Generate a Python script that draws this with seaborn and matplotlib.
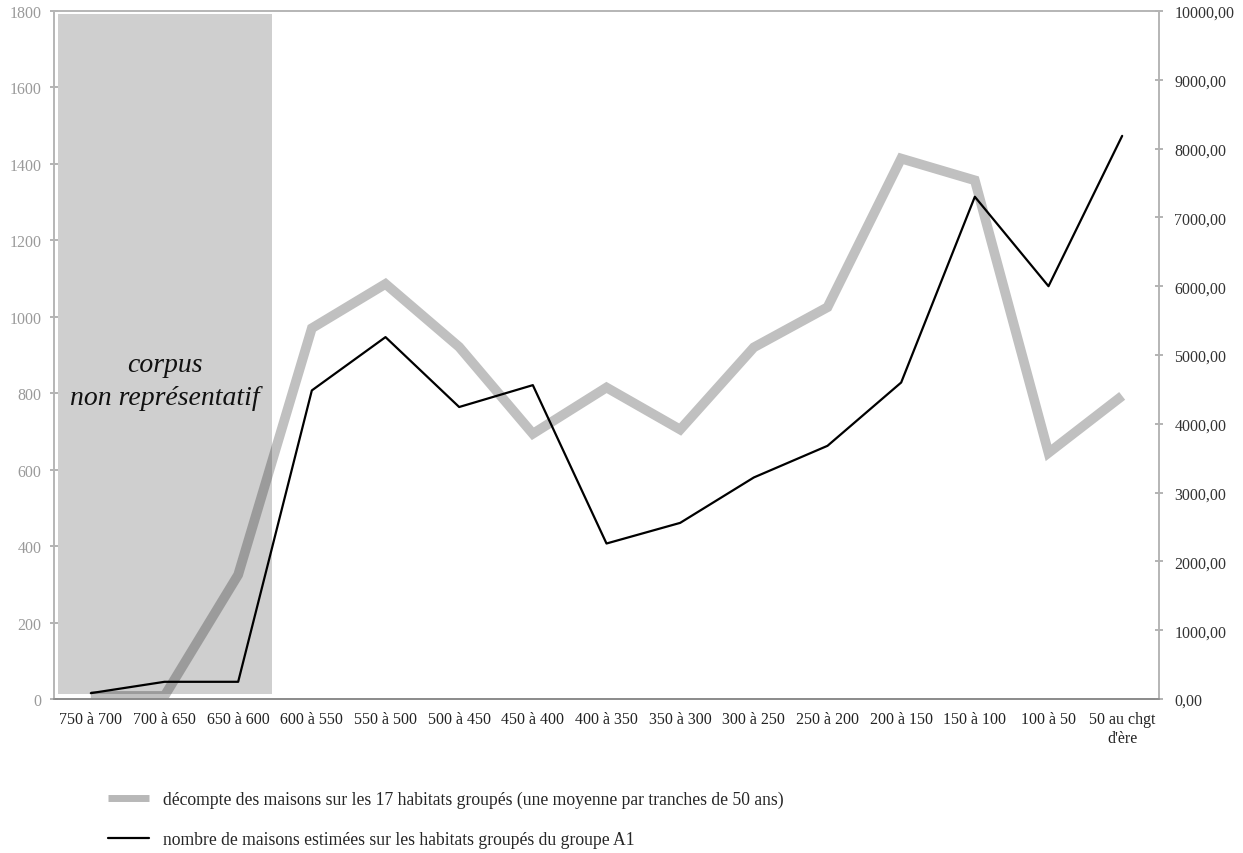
import numpy as np
import pandas as pd
import matplotlib
matplotlib.use("Agg")
import matplotlib.pyplot as plt
import seaborn as sns
from matplotlib.ticker import FuncFormatter, MultipleLocator, FixedLocator

categories = ["750 à 700", "700 à 650", "650 à 600", "600 à 550", "550 à 500",
              "500 à 450", "450 à 400", "400 à 350", "350 à 300", "300 à 250",
              "250 à 200", "200 à 150", "150 à 100", "100 à 50", "50 au chgt\nd'ère"]
decompte = [8, 8, 325, 970, 1086, 921, 694, 815, 705, 920, 1025, 1414, 1357, 644, 793]
estimees = [85, 250, 250, 4485, 5260, 4244, 4562, 2260, 2560, 3220, 3680, 4600, 7300, 6000, 8185]

label_gray = "décompte des maisons sur les 17 habitats groupés (une moyenne par tranches de 50 ans)"
label_black = "nombre de maisons estimées sur les habitats groupés du groupe A1"

sns.set_theme(style="white")
plt.rcParams["font.family"] = ["Liberation Serif", "DejaVu Serif"]

df = pd.DataFrame({"pos": np.arange(len(categories)), "cat": categories,
                   "decompte": decompte, "estimees": estimees})

fig = plt.figure(figsize=(12.43, 8.54), dpi=100)
ax = fig.add_axes([54/1243, 1-700/854, (1159-54)/1243, (700-12)/854])
ax2 = ax.twinx()

sns.lineplot(data=df, x="pos", y="decompte", ax=ax, color="#c0c0c0", linewidth=7.0,
             solid_joinstyle="miter", solid_capstyle="butt", label=label_gray,
             legend=False, zorder=2)
ax.axvspan(-0.44, 2.466, ymin=0.007, ymax=0.995, facecolor="black", alpha=0.19,
           edgecolor="none", zorder=3)
ax.text(1.0, 875, "corpus", ha="center", va="center", fontsize=20, style="italic",
        color="#111111", zorder=4)
ax.text(1.0, 790, "non représentatif", ha="center", va="center", fontsize=20,
        style="italic", color="#111111", zorder=4)

sns.lineplot(data=df, x="pos", y="estimees", ax=ax2, color="black", linewidth=1.6,
             label=label_black, legend=False)

ax.set_xlim(-0.5, len(categories) - 0.5)
ax.set_ylim(0, 1800)
ax2.set_ylim(0, 10000)

ax.yaxis.set_major_locator(MultipleLocator(200))
ax2.yaxis.set_major_locator(MultipleLocator(1000))
ax2.yaxis.set_major_formatter(FuncFormatter(lambda v, p: f"{v:.2f}".replace(".", ",")))

ax.set_xticks(np.arange(len(categories)))
ax.set_xticklabels(categories, fontsize=11.5, color="#222222", linespacing=1.25)
ax.xaxis.set_minor_locator(FixedLocator(np.arange(-0.5, len(categories), 1.0)))
ax.tick_params(axis="x", which="major", length=0, pad=9)
ax.tick_params(axis="x", which="minor", length=7, direction="inout", color="#aaaaaa", width=1)
ax.tick_params(axis="y", labelsize=11.5, labelcolor="#9a9a9a", length=6,
               direction="inout", color="#aaaaaa", left=True, pad=6)
ax2.tick_params(axis="y", labelsize=11.5, labelcolor="#333333", length=6,
                direction="inout", color="#aaaaaa", right=True, pad=8)

for a in (ax, ax2):
    a.set_xlabel("")
    a.set_ylabel("")
    for s in a.spines.values():
        s.set_color("#b5b5b5")
        s.set_linewidth(1.2)
ax.spines["bottom"].set_color("#8a8a8a")
ax2.spines["bottom"].set_color("#8a8a8a")
ax2.grid(False)
ax.grid(False)

h1, l1 = ax.get_legend_handles_labels()
h2, l2 = ax2.get_legend_handles_labels()
leg = fig.legend(h1 + h2, l1 + l2, loc="upper left", bbox_to_anchor=(108/1243, 1-792/854),
                 frameon=False, fontsize=12.7, handlelength=2.3, handletextpad=0.8,
                 labelspacing=1.3, borderaxespad=0, borderpad=0)
for line in leg.get_lines():
    if line.get_color() == "#c0c0c0":
        line.set_linewidth(5)
        line.set_color("#b8b8b8")
        line.set_solid_capstyle("butt")

fig.savefig("out.png", dpi=100)
